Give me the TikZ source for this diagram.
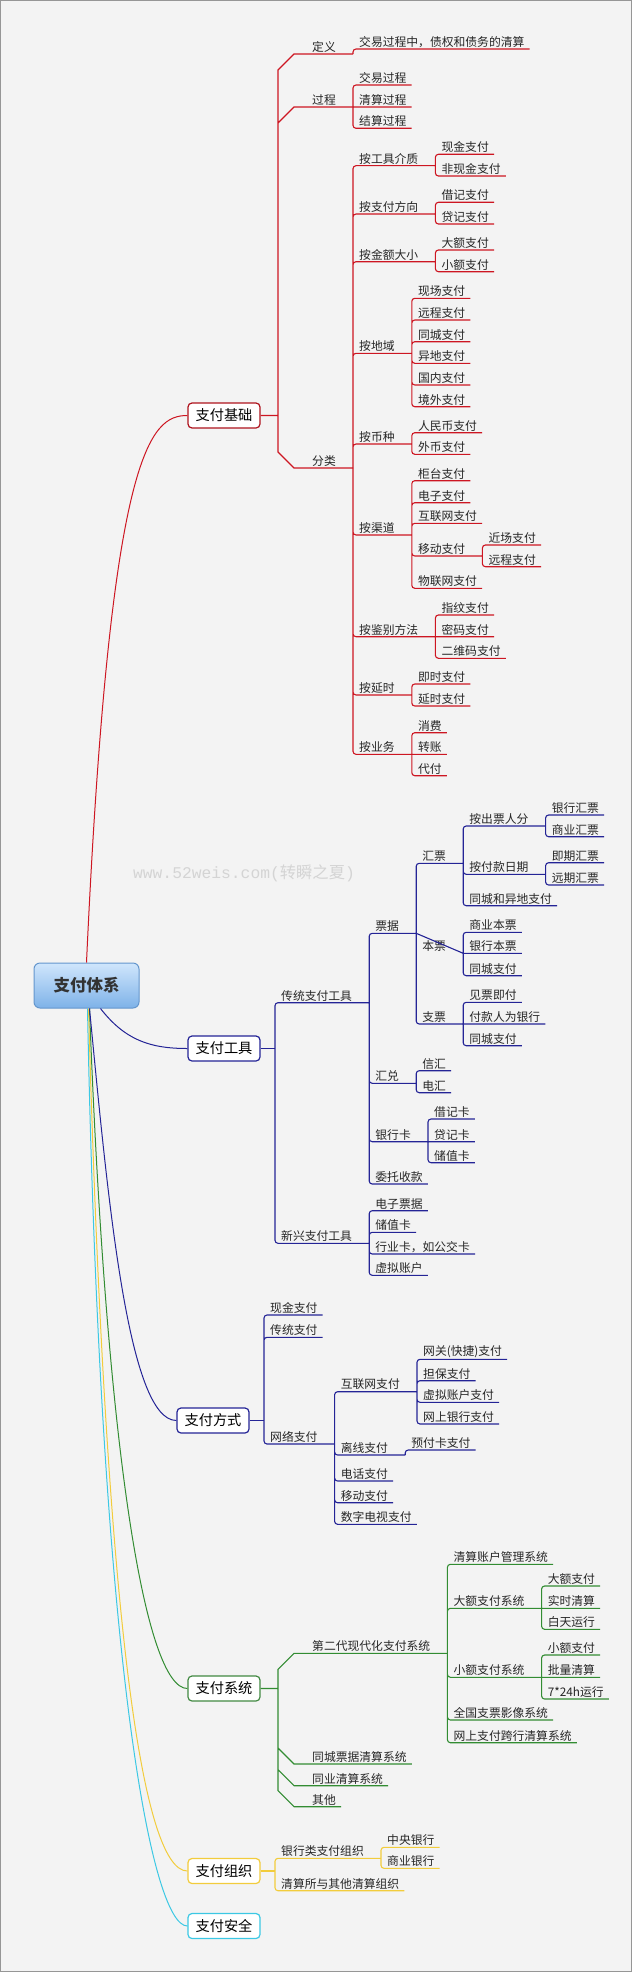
\documentclass[tikz,border=0pt]{standalone}
\usepackage{fontspec}
\newfontfamily\cjk{Noto Sans CJK SC}
\newfontfamily\markfont{Liberation Mono}
\usetikzlibrary{calc}
\definecolor{myred}{RGB}{205,22,34}
\definecolor{mynavy}{RGB}{36,36,150}
\definecolor{mygreen}{RGB}{50,140,50}
\definecolor{myyellow}{RGB}{242,204,60}
\definecolor{mycyan}{RGB}{60,200,228}
\definecolor{bggray}{RGB}{243,243,243}
\definecolor{rimgray}{RGB}{150,150,150}
\definecolor{rootTop}{RGB}{208,230,252}
\definecolor{rootBot}{RGB}{126,178,232}
\definecolor{rootRim}{RGB}{100,150,205}
\definecolor{markgray}{RGB}{212,212,212}

\tikzset{
  item/.style={anchor=south west, inner xsep=0pt, inner ysep=1.5pt,
    font=\cjk\fontsize{11.8}{12}\selectfont, text=black!85,
    execute at begin node={\hspace*{6pt}}},
  leaf/.style={item, execute at end node={\hspace*{5pt}}},
  twig/.style={item, execute at end node={\hspace*{17pt}}},
  cham/.style={execute at begin node={\hspace*{12pt}}},
  topic/.style={draw, fill=white, rounded corners=4pt, line width=1.2pt,
    minimum width=72pt, minimum height=25pt, inner sep=0pt,
    font=\cjk\fontsize{14.2}{15}\selectfont},
  link/.style={line width=1.1pt, rounded corners=3pt},
  stem/.style={line width=1pt},
}

\begin{document}
\begin{tikzpicture}[x=1pt, y=-1pt]
    % canvas
    \fill[bggray] (0,0) rectangle (632,1972);
    \draw[rimgray, line width=1pt] (0.5,0.5) rectangle (631.5,1971.5);
    \useasboundingbox (0,0) rectangle (632,1972);
    \node[text=markgray, font=\markfont\fontsize{16.3}{17}\selectfont] (mark) at (244,873) {www.52weis.com({\cjk 转瞬之夏})};

    % centre and main topics
    \node[draw=rootRim, line width=1pt, rounded corners=6pt, top color=rootTop, bottom color=rootBot,
        minimum width=105pt, minimum height=45pt, text=black!80,
        font=\cjk\bfseries\fontsize{16.5}{18}\selectfont] (root) at (86.5,985.5) {支付体系};
    \node[topic, draw=myred!85!black] (basics) at (224,415.5) {支付基础};
    \node[topic, draw=mynavy] (tools) at (224,1048.5) {支付工具};
    \node[topic, draw=mynavy] (ways) at (213,1420.5) {支付方式};
    \node[topic, draw=mygreen!80!gray] (systems) at (224,1688.5) {支付系统};
    \node[topic, draw=myyellow] (orgs) at (224,1871) {支付组织};
    \node[topic, draw=mycyan] (safety) at (224,1926) {支付安全};
    \draw[myred, stem] (root.north) .. controls (110,450) and (150,415.5) .. (basics.west);
    \draw[mynavy, stem] ([xshift=14pt]root.south) .. controls (125,1040) and (150,1048.5) .. (tools.west);
    \draw[mycyan, stem] ([xshift=1pt]root.south) .. controls (100,1650) and (150,1926) .. (safety.west);
    \draw[myyellow, stem] ([xshift=2pt]root.south) .. controls (105,1600) and (140,1871) .. (orgs.west);
    \draw[mygreen, stem] ([xshift=3pt]root.south) .. controls (106,1450) and (145,1688.5) .. (systems.west);
    \draw[mynavy, stem] ([xshift=3pt]root.south) .. controls (108,1200) and (128,1420.5) .. (ways.west);

    % 支付基础
    \coordinate (bbus) at (278,415.5);
    \node[twig, cham] (def) at (294,54) {定义};
    \node[leaf] (defA) at (def.south east |- 0,49) {交易过程中，债权和债务的清算};
    \node[twig, cham] (proc) at (294,107) {过程};
    \node[leaf] (proc1) at (proc.south east |- 0,85) {交易过程};
    \node[leaf] (proc2) at (proc.south east |- 0,107) {清算过程};
    \node[leaf] (proc3) at (proc.south east |- 0,128.3) {结算过程};
    \node[twig, cham] (cls) at (294,468) {分类};
    \node[twig] (medium) at (cls.south east |- 0,165.7) {按工具介质};
    \node[leaf] (medium1) at (medium.south east |- 0,154.3) {现金支付};
    \node[leaf] (medium2) at (medium.south east |- 0,176) {非现金支付};
    \node[twig] (direction) at (cls.south east |- 0,214) {按支付方向};
    \node[leaf] (dir1) at (direction.south east |- 0,202.3) {借记支付};
    \node[leaf] (dir2) at (direction.south east |- 0,224) {贷记支付};
    \node[twig] (amount) at (cls.south east |- 0,261.7) {按金额大小};
    \node[leaf] (amt1) at (amount.south east |- 0,250) {大额支付};
    \node[leaf] (amt2) at (amount.south east |- 0,271.7) {小额支付};
    \node[twig] (region) at (cls.south east |- 0,353.3) {按地域};
    \node[leaf] (reg1) at (region.south east |- 0,298.3) {现场支付};
    \node[leaf] (reg2) at (region.south east |- 0,320) {远程支付};
    \node[leaf] (reg3) at (region.south east |- 0,341.7) {同城支付};
    \node[leaf] (reg4) at (region.south east |- 0,363.3) {异地支付};
    \node[leaf] (reg5) at (region.south east |- 0,385) {国内支付};
    \node[leaf] (reg6) at (region.south east |- 0,406.7) {境外支付};
    \node[twig] (currency) at (cls.south east |- 0,444) {按币种};
    \node[leaf] (cur1) at (currency.south east |- 0,432.7) {人民币支付};
    \node[leaf] (cur2) at (currency.south east |- 0,454.3) {外币支付};
    \node[twig] (channel) at (cls.south east |- 0,535) {按渠道};
    \node[leaf] (chn1) at (channel.south east |- 0,480.7) {柜台支付};
    \node[leaf] (chn2) at (channel.south east |- 0,502.7) {电子支付};
    \node[leaf] (chn3) at (channel.south east |- 0,523.3) {互联网支付};
    \node[twig] (mobile) at (channel.south east |- 0,556) {移动支付};
    \node[leaf] (mobile1) at (mobile.south east |- 0,545) {近场支付};
    \node[leaf] (mobile2) at (mobile.south east |- 0,566.7) {远程支付};
    \node[leaf] (chn5) at (channel.south east |- 0,588.3) {物联网支付};
    \node[twig] (auth) at (cls.south east |- 0,636.7) {按鉴别方法};
    \node[leaf] (auth1) at (auth.south east |- 0,615) {指纹支付};
    \node[leaf] (auth2) at (auth.south east |- 0,636.7) {密码支付};
    \node[leaf] (auth3) at (auth.south east |- 0,658.3) {二维码支付};
    \node[twig] (delay) at (cls.south east |- 0,695) {按延时};
    \node[leaf] (delay1) at (delay.south east |- 0,684) {即时支付};
    \node[leaf] (delay2) at (delay.south east |- 0,706) {延时支付};
    \node[twig] (business) at (cls.south east |- 0,754.3) {按业务};
    \node[leaf] (biz1) at (business.south east |- 0,732.7) {消费};
    \node[leaf] (biz2) at (business.south east |- 0,754.3) {转账};
    \node[leaf] (biz3) at (business.south east |- 0,775.7) {代付};
    \draw[myred, line width=1.1pt] (basics.east) -- (bbus)
        (bbus) -- ($(def.south west)+(-16,16)$) -- (def.south west) -- (def.south east)
        (bbus) -- ($(proc.south west)+(-16,16)$) -- (proc.south west) -- (proc.south east)
        (bbus) -- ($(cls.south west)+(-16,-16)$) -- (cls.south west) -- (cls.south east);
    \draw[myred, link] (def.south east) |- (defA.south east)
        (proc.south east) |- (proc1.south east) (proc.south east) -- (proc2.south east)
        (proc.south east) |- (proc3.south east)
        (cls.south east) |- (medium.south east) (cls.south east) |- (direction.south east)
        (cls.south east) |- (amount.south east) (cls.south east) |- (region.south east)
        (cls.south east) |- (currency.south east) (cls.south east) |- (channel.south east)
        (cls.south east) |- (auth.south east) (cls.south east) |- (delay.south east)
        (cls.south east) |- (business.south east)
        (medium.south east) |- (medium1.south east) (medium.south east) |- (medium2.south east)
        (direction.south east) |- (dir1.south east) (direction.south east) |- (dir2.south east)
        (amount.south east) |- (amt1.south east) (amount.south east) |- (amt2.south east)
        (region.south east) |- (reg1.south east) (region.south east) |- (reg2.south east)
        (region.south east) |- (reg3.south east) (region.south east) |- (reg4.south east)
        (region.south east) |- (reg5.south east) (region.south east) |- (reg6.south east)
        (currency.south east) |- (cur1.south east) (currency.south east) |- (cur2.south east)
        (channel.south east) |- (chn1.south east) (channel.south east) |- (chn2.south east)
        (channel.south east) |- (chn3.south east) (channel.south east) |- (mobile.south east)
        (channel.south east) |- (chn5.south east)
        (mobile.south east) |- (mobile1.south east) (mobile.south east) |- (mobile2.south east)
        (auth.south east) |- (auth1.south east) (auth.south east) -- (auth2.south east)
        (auth.south east) |- (auth3.south east)
        (delay.south east) |- (delay1.south east) (delay.south east) |- (delay2.south east)
        (business.south east) |- (biz1.south east) (business.south east) -- (biz2.south east)
        (business.south east) |- (biz3.south east);

    % 支付工具
    \coordinate (tbus) at (275,1048.5);
    \node[twig] (tradi) at (275,1002.7) {传统支付工具};
    \node[twig] (bill) at (tradi.south east |- 0,933.3) {票据};
    \node[twig] (draft) at (bill.south east |- 0,863.3) {汇票};
    \node[twig] (byDrawer) at (draft.south east |- 0,826) {按出票人分};
    \node[leaf] (bankDraft) at (byDrawer.south east |- 0,815) {银行汇票};
    \node[leaf] (tradeDraft) at (byDrawer.south east |- 0,836.7) {商业汇票};
    \node[twig] (byDate) at (draft.south east |- 0,874.3) {按付款日期};
    \node[leaf] (sightDraft) at (byDate.south east |- 0,862.7) {即期汇票};
    \node[leaf] (timeDraft) at (byDate.south east |- 0,885) {远期汇票};
    \node[leaf] (draftPlace) at (draft.south east |- 0,905.7) {同城和异地支付};
    \node[twig] (note) at (bill.south east |- 0,953.3) {本票};
    \node[leaf] (note1) at (note.south east |- 0,932.3) {商业本票};
    \node[leaf] (note2) at (note.south east |- 0,953.3) {银行本票};
    \node[leaf] (note3) at (note.south east |- 0,975.7) {同城支付};
    \node[twig] (cheque) at (bill.south east |- 0,1024) {支票};
    \node[leaf] (cheque1) at (cheque.south east |- 0,1002.3) {见票即付};
    \node[leaf] (cheque2) at (cheque.south east |- 0,1024) {付款人为银行};
    \node[leaf] (cheque3) at (cheque.south east |- 0,1045.7) {同城支付};
    \node[twig] (remit) at (tradi.south east |- 0,1083.3) {汇兑};
    \node[leaf] (remit1) at (remit.south east |- 0,1070.7) {信汇};
    \node[leaf] (remit2) at (remit.south east |- 0,1092.7) {电汇};
    \node[twig] (card) at (tradi.south east |- 0,1141.7) {银行卡};
    \node[leaf] (card1) at (card.south east |- 0,1119) {借记卡};
    \node[leaf] (card2) at (card.south east |- 0,1141.7) {贷记卡};
    \node[leaf] (card3) at (card.south east |- 0,1162.7) {储值卡};
    \node[leaf] (collect) at (tradi.south east |- 0,1184) {委托收款};
    \node[twig] (newer) at (275,1243.3) {新兴支付工具};
    \node[leaf] (newer1) at (newer.south east |- 0,1210.7) {电子票据};
    \node[leaf] (newer2) at (newer.south east |- 0,1232.3) {储值卡};
    \node[leaf] (newer3) at (newer.south east |- 0,1254) {行业卡，如公交卡};
    \node[leaf] (newer4) at (newer.south east |- 0,1275.3) {虚拟账户};
    \draw[mynavy, line width=1.1pt] (tools.east) -- (tbus);
    \draw[mynavy, link] (tbus) |- (tradi.south east) (tbus) |- (newer.south east)
        (tradi.south east) |- (bill.south east) (tradi.south east) |- (remit.south east)
        (tradi.south east) |- (card.south east) (tradi.south east) |- (collect.south east)
        (bill.south east) |- (draft.south east) (bill.south east) -- (note.south east)
        (bill.south east) |- (cheque.south east)
        (draft.south east) |- (byDrawer.south east) (draft.south east) |- (byDate.south east)
        (draft.south east) |- (draftPlace.south east)
        (byDrawer.south east) |- (bankDraft.south east) (byDrawer.south east) |- (tradeDraft.south east)
        (byDate.south east) |- (sightDraft.south east) (byDate.south east) |- (timeDraft.south east)
        (note.south east) |- (note1.south east) (note.south east) -- (note2.south east)
        (note.south east) |- (note3.south east)
        (cheque.south east) |- (cheque1.south east) (cheque.south east) -- (cheque2.south east)
        (cheque.south east) |- (cheque3.south east)
        (remit.south east) |- (remit1.south east) (remit.south east) |- (remit2.south east)
        (card.south east) |- (card1.south east) (card.south east) -- (card2.south east)
        (card.south east) |- (card3.south east)
        (newer.south east) |- (newer1.south east) (newer.south east) |- (newer2.south east)
        (newer.south east) |- (newer3.south east) (newer.south east) |- (newer4.south east);

    % 支付方式
    \coordinate (wbus) at (264,1420.5);
    \node[leaf] (cash) at (264,1315) {现金支付};
    \node[leaf] (trad) at (264,1337.3) {传统支付};
    \node[twig] (net) at (264,1444) {网络支付};
    \node[twig] (web) at (net.south east |- 0,1391.7) {互联网支付};
    \node[leaf] (web1) at (web.south east |- 0,1359.3) {网关(快捷)支付};
    \node[leaf] (web2) at (web.south east |- 0,1380.7) {担保支付};
    \node[leaf] (web3) at (web.south east |- 0,1402.3) {虚拟账户支付};
    \node[leaf] (web4) at (web.south east |- 0,1424) {网上银行支付};
    \node[twig] (offline) at (net.south east |- 0,1455) {离线支付};
    \node[leaf] (offline1) at (offline.south east |- 0,1450) {预付卡支付};
    \node[leaf] (phone) at (net.south east |- 0,1481) {电话支付};
    \node[leaf] (mob) at (net.south east |- 0,1502.7) {移动支付};
    \node[leaf] (tv) at (net.south east |- 0,1524.3) {数字电视支付};
    \draw[mynavy, line width=1.1pt] (ways.east) -- (wbus);
    \draw[mynavy, link] (wbus) |- (cash.south east) (wbus) |- (trad.south east)
        (wbus) |- (net.south east)
        (net.south east) |- (web.south east) (net.south east) |- (offline.south east)
        (net.south east) |- (phone.south east) (net.south east) |- (mob.south east)
        (net.south east) |- (tv.south east)
        (web.south east) |- (web1.south east) (web.south east) |- (web2.south east)
        (web.south east) |- (web3.south east) (web.south east) |- (web4.south east)
        (offline.south east) |- (offline1.south east);

    % 支付系统
    \coordinate (sbus) at (278,1688.5);
    \node[twig, cham] (cnaps) at (294,1653.3) {第二代现代化支付系统};
    \node[leaf] (acct) at (cnaps.south east |- 0,1564.3) {清算账户管理系统};
    \node[twig] (hvps) at (cnaps.south east |- 0,1608.3) {大额支付系统};
    \node[leaf] (hvps1) at (hvps.south east |- 0,1586) {大额支付};
    \node[leaf] (hvps2) at (hvps.south east |- 0,1608.3) {实时清算};
    \node[leaf] (hvps3) at (hvps.south east |- 0,1629.3) {白天运行};
    \node[twig] (beps) at (cnaps.south east |- 0,1677.3) {小额支付系统};
    \node[leaf] (beps1) at (beps.south east |- 0,1655) {小额支付};
    \node[leaf] (beps2) at (beps.south east |- 0,1677.3) {批量清算};
    \node[leaf] (beps3) at (beps.south east |- 0,1699) {7*24h运行};
    \node[leaf] (ccms) at (cnaps.south east |- 0,1720) {全国支票影像系统};
    \node[leaf] (ibps) at (cnaps.south east |- 0,1742.7) {网上支付跨行清算系统};
    \node[leaf, cham] (cityClr) at (294,1764) {同城票据清算系统};
    \node[leaf, cham] (peerClr) at (294,1785.7) {同业清算系统};
    \node[leaf, cham] (other) at (294,1806.7) {其他};
    \draw[mygreen, line width=1.1pt] (systems.east) -- (sbus)
        (sbus) -- ($(cnaps.south west)+(-16,16)$) -- (cnaps.south west) -- (cnaps.south east)
        (sbus) -- ($(cityClr.south west)+(-16,-16)$) -- (cityClr.south west) -- (cityClr.south east)
        (sbus) -- ($(peerClr.south west)+(-16,-16)$) -- (peerClr.south west) -- (peerClr.south east)
        (sbus) -- ($(other.south west)+(-16,-16)$) -- (other.south west) -- (other.south east);
    \draw[mygreen, link] (cnaps.south east) |- (acct.south east) (cnaps.south east) |- (hvps.south east)
        (cnaps.south east) |- (beps.south east) (cnaps.south east) |- (ccms.south east)
        (cnaps.south east) |- (ibps.south east)
        (hvps.south east) |- (hvps1.south east) (hvps.south east) -- (hvps2.south east)
        (hvps.south east) |- (hvps3.south east)
        (beps.south east) |- (beps1.south east) (beps.south east) -- (beps2.south east)
        (beps.south east) |- (beps3.south east);

    % 支付组织
    \coordinate (obus) at (275,1871);
    \node[twig] (bankOrg) at (275,1858.3) {银行类支付组织};
    \node[leaf] (central) at (bankOrg.south east |- 0,1847.3) {中央银行};
    \node[leaf] (commercial) at (bankOrg.south east |- 0,1868.3) {商业银行};
    \node[leaf] (clearOrg) at (275,1890.7) {清算所与其他清算组织};
    \draw[myyellow, line width=1.1pt] (orgs.east) -- (obus);
    \draw[myyellow, link] (obus) |- (bankOrg.south east) (obus) |- (clearOrg.south east)
        (bankOrg.south east) |- (central.south east) (bankOrg.south east) |- (commercial.south east);
\end{tikzpicture}
\end{document}
